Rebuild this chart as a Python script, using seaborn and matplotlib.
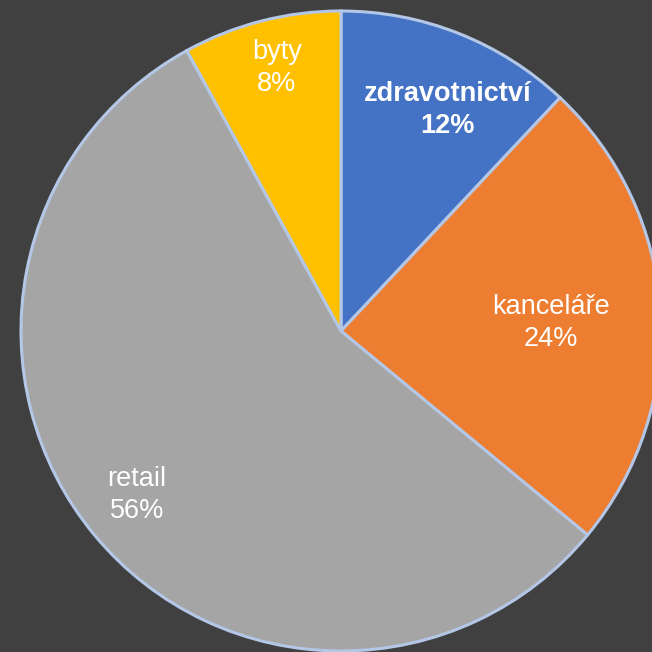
import matplotlib
matplotlib.use("Agg")
import matplotlib.pyplot as plt
import seaborn as sns

categories = ["zdravotnictví", "kanceláře", "retail", "byty"]
values = [12, 24, 56, 8]
colors_hex = ["#4472C4", "#ED7D31", "#A5A5A5", "#FFC000"]
bold = [True, False, False, False]
label_pos = [(0.333, 0.69), (0.655, 0.025), (-0.638, -0.513), (-0.201, 0.821)]

sns.set_theme(style="white")
plt.rcParams['font.family'] = ['Liberation Sans', 'DejaVu Sans']

palette = sns.color_palette(colors_hex)

fig = plt.figure(figsize=(6.52, 6.52), dpi=100, facecolor="#404040")
ax = fig.add_axes([0, 0, 1, 1])
ax.set_facecolor("#404040")

ax.pie(values, colors=palette, startangle=90, counterclock=False,
       wedgeprops=dict(edgecolor="#B4C7E7", linewidth=2.2))

total = sum(values)
for cat, v, (x, y), b in zip(categories, values, label_pos, bold):
    ax.text(x, y, f"{cat}\n{round(100 * v / total)}%", ha="center", va="center",
            color="white", fontsize=19.5, fontweight="bold" if b else "normal",
            linespacing=1.3)

scale = 320.0
cx, cy = 341, 331
ax.set_xlim(-cx / scale, -cx / scale + 652 / scale)
ax.set_ylim(cy / scale - 652 / scale, cy / scale)
ax.set_aspect("auto")
ax.axis("off")

fig.savefig("out.png", dpi=100, facecolor=fig.get_facecolor())
